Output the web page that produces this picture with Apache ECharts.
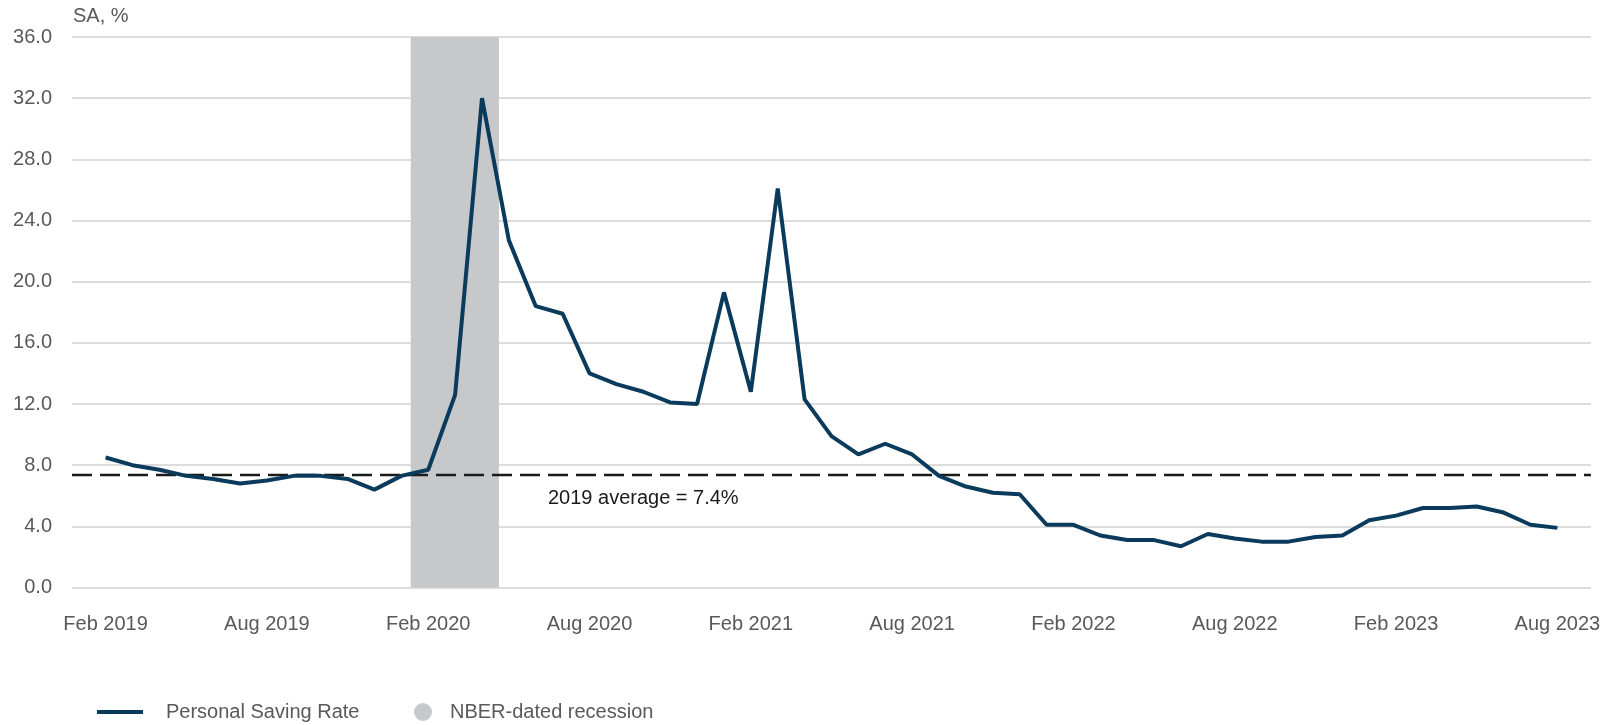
<!DOCTYPE html>
<html>
<head>
<meta charset="utf-8">
<script src="https://cdn.jsdelivr.net/npm/echarts@6/dist/echarts.min.js"></script>
<style>
  html, body { margin: 0; padding: 0; background: #fff; }
  #chart { width: 1618px; height: 725px; }
</style>
</head>
<body>
<div id="chart"></div>
<script>
// monthly personal saving rate, Feb 2019 .. Aug 2023 (index 0 = Feb 2019)
const savingRate = [
  8.5, 8.0, 7.7, 7.3, 7.1, 6.8, 7.0, 7.3, 7.3, 7.1, 6.4, 7.3, 7.7,
  12.6, 32.0, 22.7, 18.4, 17.9, 14.0, 13.3, 12.8, 12.1, 12.0, 19.3, 12.8, 26.1, 12.3,
  9.9, 8.7, 9.4, 8.7, 7.3, 6.6, 6.2, 6.1, 4.1, 4.1, 3.4, 3.1, 3.1, 2.7,
  3.5, 3.2, 3.0, 3.0, 3.3, 3.4, 4.4, 4.7, 5.2, 5.2, 5.3, 4.9, 4.1, 3.9
];
const tickIndex = [0, 6, 12, 18, 24, 30, 36, 42, 48, 54];
const tickLabels = ['Feb 2019', 'Aug 2019', 'Feb 2020', 'Aug 2020', 'Feb 2021',
  'Aug 2021', 'Feb 2022', 'Aug 2022', 'Feb 2023', 'Aug 2023'];
const recession = [11.35, 14.63];   // shaded span, in month index
const avg2019 = 7.4;
const avgLabelAt = 20;

const font = "'Liberation Sans', Arial, sans-serif";
const gray = '#595959';
const navy = '#0b3b5c';
const shade = '#c7c8ca';

const chart = echarts.init(document.getElementById('chart'));

chart.setOption({
  animation: false,
  textStyle: { fontFamily: font },
  title: {
    text: 'SA, %',
    left: 68,
    top: 1,
    textStyle: { fontSize: 20, fontWeight: 'normal', color: gray, fontFamily: font },
  },
  grid: { left: 72, right: 27, top: 37, bottom: 137.5, outerBoundsMode: 'none' },
  xAxis: {
    type: 'value',
    min: -1.25,
    max: 55.25,
    axisLine: { show: false },
    axisTick: { show: false },
    splitLine: { show: false },
    axisLabel: {
      customValues: tickIndex,
      formatter: v => tickLabels[tickIndex.indexOf(v)] || '',
      color: gray,
      fontSize: 20,
      margin: 27,
    },
  },
  yAxis: {
    type: 'value',
    min: 0,
    max: 36,
    interval: 4,
    axisLine: { show: false },
    axisTick: { show: false },
    axisLabel: {
      formatter: v => v.toFixed(1),
      color: gray,
      fontSize: 20,
      margin: 20,
    },
    splitLine: { lineStyle: { color: '#dcdcdc', width: 2 } },
  },
  legend: [
    {
      data: [{ name: 'Personal Saving Rate', icon: 'rect' }],
      left: 97,
      top: 702,
      padding: 0,
      itemWidth: 46,
      itemHeight: 4,
      textStyle: { color: gray, fontSize: 20, padding: [0, 0, 0, 18] },
    },
    {
      data: [{ name: 'NBER-dated recession', icon: 'circle' }],
      left: 414,
      top: 702,
      padding: 0,
      itemWidth: 18,
      itemHeight: 18,
      textStyle: { color: gray, fontSize: 20, padding: [0, 0, 0, 13] },
    },
  ],
  series: [
    {
      name: 'Personal Saving Rate',
      type: 'line',
      data: savingRate.map((v, i) => [i, v]),
      symbol: 'none',
      lineStyle: { color: navy, width: 4 },
      itemStyle: { color: navy },
      z: 5,
      markArea: {
        silent: true,
        itemStyle: { color: shade },
        data: [[{ xAxis: recession[0], yAxis: 0 }, { xAxis: recession[1], yAxis: 36 }]],
      },
      markLine: {
        silent: true,
        symbol: 'none',
        label: { show: false },
        lineStyle: { color: '#1a1a1a', type: [20, 8], width: 2.4 },
        data: [{ yAxis: avg2019 }],
      },
      markPoint: {
        silent: true,
        symbolSize: 0,
        data: [{ coord: [avgLabelAt, avg2019] }],
        label: {
          show: true,
          formatter: '2019 average = 7.4%',
          color: '#1a1a1a',
          fontSize: 20,
          offset: [0, 24],
        },
      },
    },
    {
      name: 'NBER-dated recession',
      type: 'line',
      data: [],
      itemStyle: { color: shade },
      lineStyle: { color: shade },
    },
  ],
});
</script>
</body>
</html>
